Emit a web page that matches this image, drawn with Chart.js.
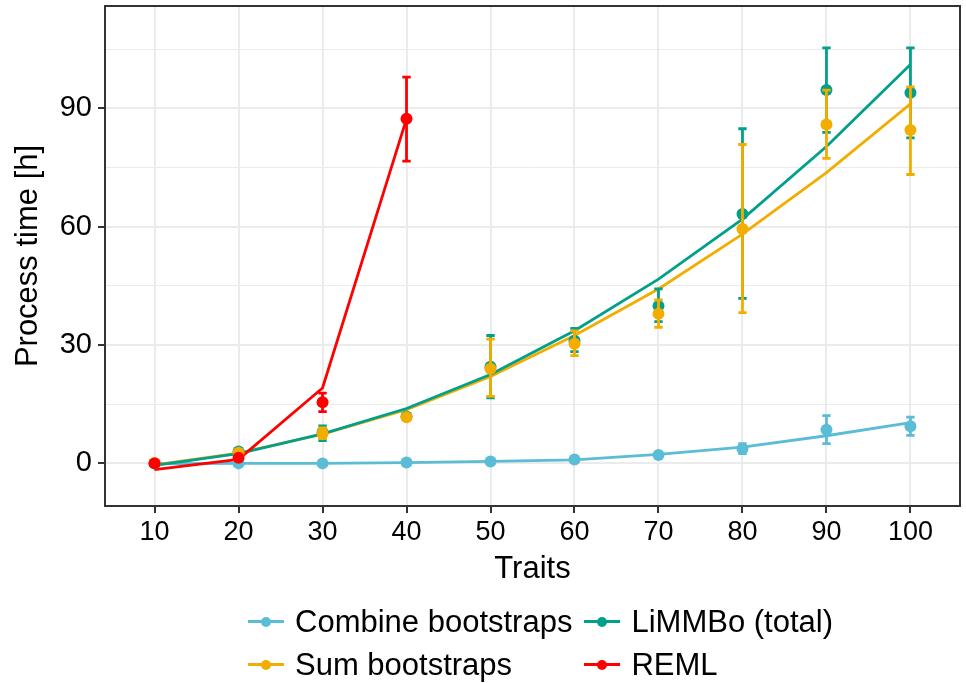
<!DOCTYPE html>
<html>
<head>
<meta charset="utf-8">
<title>Process time vs traits</title>
<script src="https://cdn.jsdelivr.net/npm/chart.js@4.4.1/dist/chart.umd.min.js"></script>
<style>
    html, body { margin: 0; padding: 0; background: #fff; }
    #wrap { position: relative; width: 966px; height: 683px; overflow: hidden; }
    #chart { position: absolute; left: 0; top: 0; }
    #legend {
        position: absolute; left: 248px; top: 600px;
        display: grid; grid-template-columns: auto auto; column-gap: 12px;
        font: 31px/43px "Liberation Sans", Arial, sans-serif; color: #000;
    }
    .legend-item { display: flex; align-items: center; white-space: nowrap; }
    .legend-key { position: relative; width: 36px; height: 3px; margin-right: 11px; }
    .legend-key::after {
        content: ''; position: absolute; left: 13px; top: -3.5px;
        width: 10px; height: 10px; border-radius: 50%; background: inherit;
    }
</style>
</head>
<body>
<div id="wrap">
    <canvas id="chart" width="966" height="683"></canvas>
    <div id="legend"></div>
</div>
<script>
(function () {
    'use strict';

    var traits = [10, 20, 30, 40, 50, 60, 70, 80, 90, 100];
    var remlTraits = [10, 20, 30, 40];
    var yTicks = [0, 30, 60, 90];
    var yMinorTicks = [15, 45, 75, 105];

    var combineMean = [0.0, 0.0, 0.0, 0.2, 0.5, 1.0, 2.1, 3.7, 8.5, 9.4];
    var combineLow = [-0.1, -0.1, -0.1, 0.1, 0.3, 0.7, 1.7, 2.5, 5.0, 7.1];
    var combineHigh = [0.1, 0.1, 0.1, 0.3, 0.7, 1.3, 2.5, 5.0, 12.1, 11.7];
    var combineFit = [-0.1, 0.0, 0.0, 0.2, 0.5, 0.9, 2.3, 4.1, 7.0, 10.3];

    var sumMean = [0.1, 2.7, 7.6, 11.7, 24.0, 30.3, 37.9, 59.4, 85.9, 84.5];
    var sumLow = [-0.1, 2.3, 6.3, 11.0, 17.0, 27.3, 34.5, 38.2, 77.3, 73.2];
    var sumHigh = [0.3, 3.1, 9.0, 12.4, 31.5, 33.6, 41.4, 80.8, 94.6, 95.4];
    var sumFit = [-0.4, 2.6, 7.4, 13.6, 22.0, 32.4, 44.2, 58.1, 73.7, 91.1];

    var limmboMean = [0.0, 3.0, 7.8, 11.9, 24.5, 31.1, 39.9, 63.2, 94.6, 93.9];
    var limmboLow = [-0.2, 2.5, 5.8, 11.2, 16.6, 28.3, 35.9, 41.8, 83.9, 82.5];
    var limmboHigh = [0.2, 3.4, 9.5, 12.6, 32.4, 34.2, 44.2, 84.8, 105.3, 105.3];
    var limmboFit = [-0.5, 2.5, 7.5, 13.9, 22.5, 33.6, 46.7, 61.9, 80.3, 101.1];

    var remlMean = [0.0, 1.4, 15.5, 87.3];
    var remlLow = [-0.3, 0.9, 13.1, 76.6];
    var remlHigh = [0.3, 1.9, 17.8, 97.9];
    var remlFit = [-1.6, 1.0, 19.1, 87.3];

    // lineOrder / pointOrder: higher is drawn first (further back)
    var series = [
        { name: 'Combine bootstraps', color: '#5BBCD6', x: traits, mean: combineMean, low: combineLow, high: combineHigh, fit: combineFit, lineOrder: 24, pointOrder: 14 },
        { name: 'LiMMBo (total)', color: '#00A08A', x: traits, mean: limmboMean, low: limmboLow, high: limmboHigh, fit: limmboFit, lineOrder: 22, pointOrder: 13 },
        { name: 'Sum bootstraps', color: '#F2AD00', x: traits, mean: sumMean, low: sumLow, high: sumHigh, fit: sumFit, lineOrder: 23, pointOrder: 12 },
        { name: 'REML', color: '#FF0000', x: remlTraits, mean: remlMean, low: remlLow, high: remlHigh, fit: remlFit, lineOrder: 21, pointOrder: 11 }
    ];

    var FONT = '"Liberation Sans", Arial, sans-serif';
    var GRID = '#EBEBEB';
    var AXIS = '#333333';
    var CAP_HALF = 0.5; // error bar cap half width, in trait units

    function toPoints(xs, ys) {
        return xs.map(function (x, i) {
            return { x: x, y: ys[i] };
        });
    }

    function buildDatasets() {
        var datasets = [];
        series.forEach(function (s) {
            datasets.push({
                label: s.name,
                data: toPoints(s.x, s.fit),
                borderColor: s.color,
                backgroundColor: s.color,
                borderWidth: 2.8,
                pointRadius: 0,
                tension: 0,
                order: s.lineOrder
            });
            datasets.push({
                label: s.name + ' mean',
                data: toPoints(s.x, s.mean),
                showLine: false,
                borderColor: s.color,
                backgroundColor: s.color,
                pointRadius: 6,
                pointBorderWidth: 0,
                order: s.pointOrder,
                errLow: s.low,
                errHigh: s.high
            });
        });
        return datasets;
    }

    var errorBarPlugin = {
        id: 'errorBars',
        beforeDatasetDraw: function (chart, args) {
            var ds = chart.data.datasets[args.index];
            if (!ds.errLow) return;
            var xs = chart.scales.x;
            var ys = chart.scales.y;
            var ctx = chart.ctx;
            var area = chart.chartArea;
            ctx.save();
            ctx.beginPath();
            ctx.rect(area.left, area.top, area.right - area.left, area.bottom - area.top);
            ctx.clip();
            ctx.strokeStyle = ds.borderColor;
            ctx.lineWidth = 2.8;
            ctx.beginPath();
            ds.data.forEach(function (p, i) {
                var x = xs.getPixelForValue(p.x);
                var x0 = xs.getPixelForValue(p.x - CAP_HALF);
                var x1 = xs.getPixelForValue(p.x + CAP_HALF);
                var yl = ys.getPixelForValue(ds.errLow[i]);
                var yh = ys.getPixelForValue(ds.errHigh[i]);
                ctx.moveTo(x, yl);
                ctx.lineTo(x, yh);
                ctx.moveTo(x0, yl);
                ctx.lineTo(x1, yl);
                ctx.moveTo(x0, yh);
                ctx.lineTo(x1, yh);
            });
            ctx.stroke();
            ctx.restore();
        }
    };

    var panelBorderPlugin = {
        id: 'panelBorder',
        afterDraw: function (chart) {
            var a = chart.chartArea;
            var ctx = chart.ctx;
            ctx.save();
            ctx.strokeStyle = AXIS;
            ctx.lineWidth = 2;
            ctx.strokeRect(a.left, a.top, a.right - a.left, a.bottom - a.top);
            ctx.restore();
        }
    };

    function buildLegend() {
        var legendEl = document.getElementById('legend');
        series.forEach(function (s) {
            var item = document.createElement('div');
            item.className = 'legend-item';
            var key = document.createElement('span');
            key.className = 'legend-key';
            key.style.background = s.color;
            item.appendChild(key);
            var label = document.createElement('span');
            label.textContent = s.name;
            item.appendChild(label);
            legendEl.appendChild(item);
        });
    }

    function renderChart() {
        var ctx = document.getElementById('chart').getContext('2d');
        Chart.defaults.font.family = FONT;
        Chart.defaults.color = '#000';

        new Chart(ctx, {
            type: 'line',
            data: { datasets: buildDatasets() },
            plugins: [errorBarPlugin, panelBorderPlugin],
            options: {
                responsive: false,
                animation: false,
                devicePixelRatio: 1,
                layout: { padding: { left: 0, top: 5, right: 4, bottom: 87 } },
                plugins: {
                    legend: { display: false },
                    tooltip: { enabled: false }
                },
                scales: {
                    x: {
                        type: 'linear',
                        min: 4.1,
                        max: 105.9,
                        afterBuildTicks: function (scale) {
                            scale.ticks = traits.map(function (v) {
                                return { value: v };
                            });
                        },
                        afterFit: function (scale) {
                            scale.height = 90;
                            scale.paddingLeft = 0;
                            scale.paddingRight = 0;
                        },
                        ticks: {
                            autoSkip: false,
                            maxRotation: 0,
                            padding: 3,
                            color: '#000',
                            font: { size: 27 }
                        },
                        grid: {
                            color: GRID,
                            lineWidth: 2,
                            tickColor: AXIS,
                            tickLength: 7,
                            tickWidth: 2
                        },
                        border: { display: false },
                        title: {
                            display: true,
                            text: 'Traits',
                            color: '#000',
                            font: { size: 31 },
                            padding: { top: 0, bottom: 8 }
                        }
                    },
                    y: {
                        type: 'linear',
                        min: -10.8,
                        max: 115.9,
                        afterBuildTicks: function (scale) {
                            scale.ticks = yTicks.concat(yMinorTicks).sort(function (a, b) {
                                return a - b;
                            }).map(function (v) {
                                return { value: v };
                            });
                        },
                        afterFit: function (scale) {
                            scale.width = 105;
                            scale.paddingTop = 0;
                            scale.paddingBottom = 0;
                        },
                        ticks: {
                            autoSkip: false,
                            padding: 6,
                            color: '#000',
                            font: { size: 29 },
                            callback: function (value) {
                                return yTicks.indexOf(value) >= 0 ? String(value) : '';
                            }
                        },
                        grid: {
                            color: GRID,
                            lineWidth: function (c) {
                                return yTicks.indexOf(c.tick.value) >= 0 ? 2 : 1;
                            },
                            tickColor: function (c) {
                                return yTicks.indexOf(c.tick.value) >= 0 ? AXIS : 'rgba(0,0,0,0)';
                            },
                            tickLength: 7,
                            tickWidth: 2
                        },
                        border: { display: false },
                        title: {
                            display: true,
                            text: 'Process time [h]',
                            color: '#000',
                            font: { size: 31 },
                            padding: { top: 10, bottom: 0 }
                        }
                    }
                }
            }
        });
    }

    buildLegend();
    renderChart();
})();
</script>
</body>
</html>
